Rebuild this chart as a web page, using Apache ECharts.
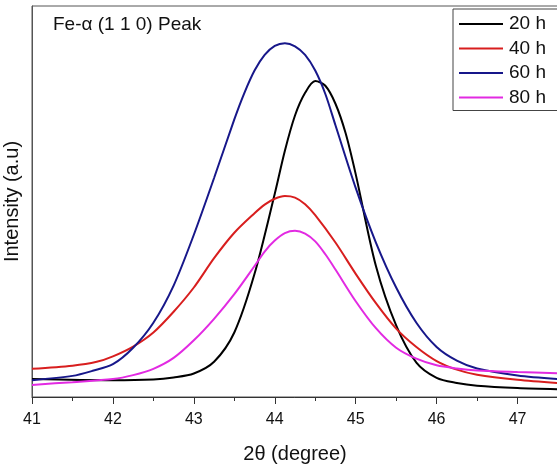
<!DOCTYPE html>
<html>
<head>
<meta charset="utf-8">
<script src="https://cdn.jsdelivr.net/npm/echarts@6/dist/echarts.min.js"></script>
<style>
html,body{margin:0;padding:0;background:#fff;}
#chart{width:557px;height:465px;}
</style>
</head>
<body>
<div id="chart"></div>
<script>
// Data (2theta in degree, intensity in arbitrary units 0-100)
const seriesNames = ['20 h', '40 h', '60 h', '80 h'];
const xTickValues = [41, 42, 43, 44, 45, 46, 47];

const theta20h = [41.00, 42.00, 42.50, 42.75, 43.00, 43.25, 43.50, 43.75, 44.00, 44.125, 44.25, 44.375, 44.50, 44.625, 44.75, 44.875, 45.00, 45.25, 45.50, 45.75, 46.00, 46.25, 46.50, 47.00, 47.49];
const int20h   = [4.6,   4.3,   4.5,   5.0,   6.0,   9.0,   16.5,  31.5,  52.0,  63.0,   72.0,  77.8,   80.8,  79.6,   75.0,  67.5,   57.0,  33.5,  18.3,  8.8,   4.9,   3.6,   2.9,   2.3,   2.0];

const theta40h = [41.00, 41.50, 41.80, 42.00, 42.25, 42.50, 42.75, 43.00, 43.25, 43.50, 43.75, 43.875, 44.00, 44.125, 44.25, 44.375, 44.50, 44.75, 45.00, 45.25, 45.50, 45.75, 46.00, 46.25, 46.50, 47.00, 47.49];
const int40h   = [7.2,   8.0,   9.0,   10.4,  12.9,  16.5,  21.8,  28.0,  35.5,  42.0,  47.0,  49.2,   50.7,  51.4,   51.0,  49.3,   46.5,  39.5,  31.5,  24.0,  17.5,  12.8,  9.2,   7.0,   5.7,   4.4,   3.6];

const theta60h = [41.00, 41.50, 41.75, 42.00, 42.25, 42.50, 42.75, 43.00, 43.25, 43.50, 43.625, 43.75, 43.875, 44.00, 44.125, 44.25, 44.375, 44.50, 44.625, 44.75, 45.00, 45.25, 45.50, 45.75, 46.00, 46.25, 46.50, 47.00, 47.49];
const int60h   = [4.3,   5.4,   6.7,   8.4,   12.6,  19.0,  28.5,  41.5,  56.0,  71.0,  77.8,   83.5,  87.5,   89.8,  90.5,   89.7,  87.5,   83.5,  77.5,   69.5,  53.5,  39.5,  28.0,  19.0,  12.8,  9.3,   7.3,   5.5,   4.6];

const theta80h = [41.00, 41.50, 42.00, 42.25, 42.50, 42.75, 43.00, 43.25, 43.50, 43.75, 43.875, 44.00, 44.125, 44.25, 44.375, 44.50, 44.625, 44.75, 45.00, 45.25, 45.50, 45.75, 46.00, 46.25, 46.50, 47.00, 47.49];
const int80h   = [3.1,   3.8,   4.6,   5.6,   7.2,   10.0,  14.5,  20.0,  26.3,  33.5,  37.2,   40.0,  41.9,   42.5,  41.8,   39.8,  36.5,   32.6,  24.5,  17.6,  12.6,  9.8,   8.1,   7.3,   6.8,   6.4,   6.1];

const colors = ['#000000', '#d81e1e', '#17178a', '#e22ae2'];

function pairs(xs, ys) { return xs.map((x, i) => [x, ys[i]]); }
const allData = [pairs(theta20h, int20h), pairs(theta40h, int40h), pairs(theta60h, int60h), pairs(theta80h, int80h)];

const chart = echarts.init(document.getElementById('chart'), null, {renderer: 'canvas'});
const font = 'Arial, "Liberation Sans", sans-serif';

chart.setOption({
  animation: false,
  backgroundColor: '#ffffff',
  title: {
    text: 'Fe-α (1 1 0) Peak',
    left: 53, top: 15, padding: 0,
    textStyle: {fontFamily: font, fontSize: 19, fontWeight: 'normal', color: '#111'}
  },
  legend: {
    data: seriesNames.map((n, i) => ({name: n, icon: 'rect', itemStyle: {color: colors[i]}})),
    orient: 'vertical',
    left: 453, top: 9,
    padding: [5, 12, 3, 6],
    itemWidth: 44, itemHeight: 2,
    itemGap: 4.5,
    borderColor: '#444', borderWidth: 1,
    backgroundColor: '#fff',
    textStyle: {fontFamily: font, fontSize: 19, color: '#111', lineHeight: 20, padding: [0,0,0,1]}
  },
  grid: {
    left: 32, right: -1, top: 6, bottom: 68,
    outerBoundsMode: 'none', containLabel: false,
    show: true, borderColor: '#555', borderWidth: 1, backgroundColor: 'transparent'
  },
  xAxis: {
    type: 'value', min: 41, max: 47.5, interval: 1,
    name: '2θ (degree)', nameLocation: 'middle', nameGap: 47,
    nameTextStyle: {fontFamily: font, fontSize: 20, color: '#111'},
    axisLine: {show: true, lineStyle: {color: '#333', width: 1}},
    axisTick: {show: true, length: 7, lineStyle: {color: '#333'}},
    minorTick: {show: true, splitNumber: 2, length: 4, lineStyle: {color: '#333'}},
    axisLabel: {fontFamily: font, fontSize: 16, color: '#111', margin: 15,
      formatter: v => xTickValues.includes(v) ? String(v) : ''},
    splitLine: {show: false}
  },
  yAxis: {
    type: 'value', min: 0, max: 100,
    name: 'Intensity (a.u)', nameLocation: 'middle', nameGap: 10,
    nameTextStyle: {fontFamily: font, fontSize: 20, color: '#111'},
    axisLine: {show: true, lineStyle: {color: '#555', width: 1}},
    axisTick: {show: false}, axisLabel: {show: false}, splitLine: {show: false}
  },
  series: seriesNames.map((n, i) => ({
    name: n, type: 'line', data: allData[i], smooth: 0.3,
    symbol: 'none', lineStyle: {color: colors[i], width: 2}, itemStyle: {color: colors[i]}
  }))
});
</script>
</body>
</html>
